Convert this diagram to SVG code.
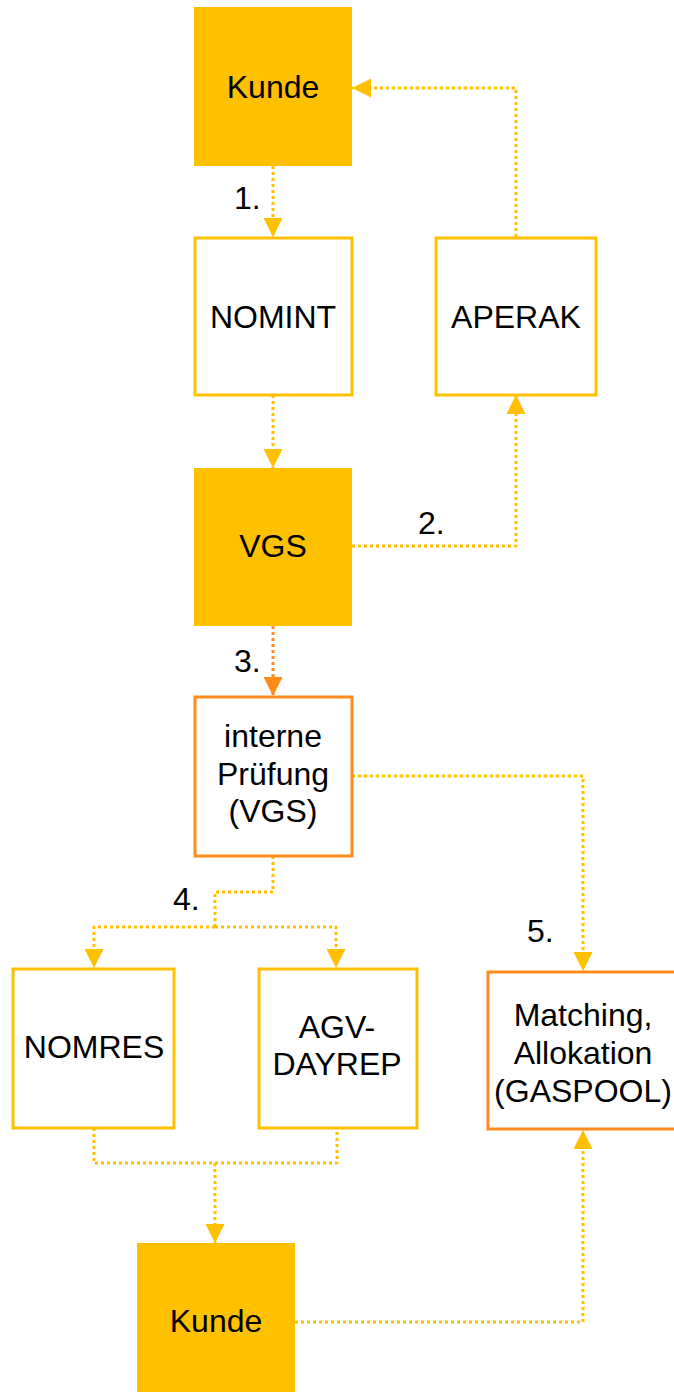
<svg xmlns="http://www.w3.org/2000/svg" width="674" height="1392" viewBox="0 0 674 1392">
<defs>
<style>
.t{font-family:"Liberation Sans",Arial,sans-serif;font-size:32px;fill:#000;text-anchor:middle}
.lbl{font-family:"Liberation Sans",Arial,sans-serif;font-size:32px;fill:#000}
.fill{fill:#FFC000;stroke:none}
.yb{fill:#fff;stroke:#FFC000;stroke-width:3}
.ob{fill:#fff;stroke:#FF8C1A;stroke-width:3}
.cy{fill:none;stroke:#FFC000;stroke-width:3;stroke-dasharray:3 3;stroke-linejoin:round}
.co{fill:none;stroke:#FF8C1A;stroke-width:3;stroke-dasharray:3 3}
</style>
<marker id="ay" markerUnits="userSpaceOnUse" markerWidth="19" markerHeight="19" refX="19" refY="9.5" orient="auto"><path d="M0,0 L19,9.5 L0,19 z" fill="#FFC000"/></marker>
<marker id="ao" markerUnits="userSpaceOnUse" markerWidth="19" markerHeight="19" refX="19" refY="9.5" orient="auto"><path d="M0,0 L19,9.5 L0,19 z" fill="#FF8C1A"/></marker>
</defs>
<rect width="674" height="1392" fill="#fff"/>
<g id="connectors">
<path class="cy" d="M273,166 V237" marker-end="url(#ay)"/>
<path class="cy" d="M516,237 V88 H352" marker-end="url(#ay)"/>
<path class="cy" d="M273,395 V468" marker-end="url(#ay)"/>
<path class="cy" d="M352,546 H516 V395" marker-end="url(#ay)"/>
<path class="co" d="M273,626 V696" marker-end="url(#ao)"/>
<path class="cy" d="M352,776 H583 V971" marker-end="url(#ay)"/>
<path class="cy" d="M273,856 V892 H215 V927"/>
<path class="cy" d="M215,927 H94 V968" marker-end="url(#ay)"/>
<path class="cy" d="M215,927 H336 V968" marker-end="url(#ay)"/>
<path class="cy" d="M94,1128 V1163 H337 V1128"/>
<path class="cy" d="M215,1163 V1243" marker-end="url(#ay)"/>
<path class="cy" d="M295,1322 H583 V1130" marker-end="url(#ay)"/>
<text class="lbl" x="234" y="209">1.</text>
<text class="lbl" x="418" y="534">2.</text>
<text class="lbl" x="234" y="672">3.</text>
<text class="lbl" x="173" y="910">4.</text>
<text class="lbl" x="527" y="942">5.</text>
</g>
<g id="kunde-top"><rect class="fill" x="194" y="7" width="158" height="159"/><text class="t" x="273" y="98">Kunde</text></g>
<g id="nomint"><rect class="yb" x="195" y="238" width="157" height="157"/><text class="t" x="273" y="328">NOMINT</text></g>
<g id="aperak"><rect class="yb" x="436" y="238" width="160" height="157"/><text class="t" x="516" y="328">APERAK</text></g>
<g id="vgs"><rect class="fill" x="194" y="468" width="158" height="158"/><text class="t" x="273" y="557">VGS</text></g>
<g id="pruefung"><rect class="ob" x="195" y="697" width="157" height="159"/><text class="t" x="273" y="747">interne</text><text class="t" x="273" y="785">Prüfung</text><text class="t" x="273" y="822">(VGS)</text></g>
<g id="nomres"><rect class="yb" x="13" y="969" width="161" height="159"/><text class="t" x="94" y="1058">NOMRES</text></g>
<g id="agv-dayrep"><rect class="yb" x="259" y="969" width="158" height="159"/><text class="t" x="337" y="1038">AGV-</text><text class="t" x="337" y="1075">DAYREP</text></g>
<g id="matching"><rect class="ob" x="488" y="972" width="192" height="157"/><text class="t" x="583" y="1026">Matching,</text><text class="t" x="583" y="1064">Allokation</text><text class="t" x="583" y="1102">(GASPOOL)</text></g>
<g id="kunde-bottom"><rect class="fill" x="137" y="1243" width="158" height="152"/><text class="t" x="216" y="1332">Kunde</text></g>
</svg>
